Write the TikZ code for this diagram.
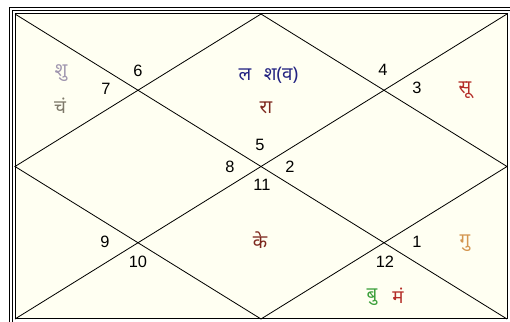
\documentclass[tikz,border=0pt]{standalone}
\usepackage{fontspec}
\setmainfont{Liberation Sans}
\newfontfamily\dev[Script=Devanagari]{Noto Sans}
\definecolor{cream}{RGB}{255,255,242}
\definecolor{cshu}{RGB}{160,150,175}
\definecolor{cchan}{RGB}{125,120,105}
\definecolor{cblue}{RGB}{35,35,130}
\definecolor{cmaroon}{RGB}{125,40,30}
\definecolor{cred}{RGB}{180,45,40}
\definecolor{corange}{RGB}{212,150,80}
\definecolor{cgreen}{RGB}{60,160,60}
\tikzset{
  frame/.style={line width=0.85pt},
  chartline/.style={line width=0.7pt},
  num/.style={inner sep=0pt, font=\fontsize{14}{14}\selectfont},
  planet/.style={inner sep=0pt, font=\dev\fontsize{16}{16}\selectfont},
}
\begin{document}
\begin{tikzpicture}[x=0.3mm,y=-0.3mm]
\useasboundingbox (0,0) rectangle (510,322);
\clip (0,0) rectangle (510,322);
\fill[white] (0,0) rectangle (510,322);
% borders
\draw[frame] (9,8) rectangle (516,328);
\draw[frame] (12,11) rectangle (513,325);
% chart frame
\coordinate (TL) at (15,14);
\coordinate (TR) at (507,14);
\coordinate (BR) at (507,319);
\coordinate (BL) at (15,319);
\coordinate (T) at (261,14);
\coordinate (R) at (507,166.5);
\coordinate (B) at (261,319);
\coordinate (L) at (15,166.5);
\fill[cream] (TL) rectangle (BR);
\draw[frame] (TL) rectangle (BR);
\draw[chartline] (TL) -- (BR);
\draw[chartline] (TR) -- (BL);
\draw[chartline] (T) -- (R) -- (B) -- (L) -- cycle;
% house numbers
\node[num] (n6) at (138,71) {6};
\node[num] (n7) at (106,89) {7};
\node[num] (n5) at (260,145) {5};
\node[num] (n8) at (230,167) {8};
\node[num] (n2) at (290,167) {2};
\node[num] (n11) at (262,185) {11};
\node[num] (n4) at (383,70) {4};
\node[num] (n3) at (417,88) {3};
\node[num] (n9) at (105,242) {9};
\node[num] (n10) at (138,262) {10};
\node[num] (n1) at (417,242) {1};
\node[num] (n12) at (385,262) {12};
% planets
\node[planet, text=cshu] (shu) at (61,73) {शु};
\node[planet, text=cchan] (chan) at (60,106) {चं};
\node[planet, text=cblue] (la) at (245,75) {ल};
\node[planet, text=cblue] (sha) at (281,75) {श(व)};
\node[planet, text=cmaroon] (ra) at (266,108) {रा};
\node[planet, text=cred] (su) at (465,90) {सू};
\node[planet, text=cmaroon] (ke) at (260,240) {के};
\node[planet, text=corange] (gu) at (465,243) {गु};
\node[planet, text=cgreen] (bu) at (372,297) {बु};
\node[planet, text=cred] (man) at (398,296) {मं};
\end{tikzpicture}
\end{document}
